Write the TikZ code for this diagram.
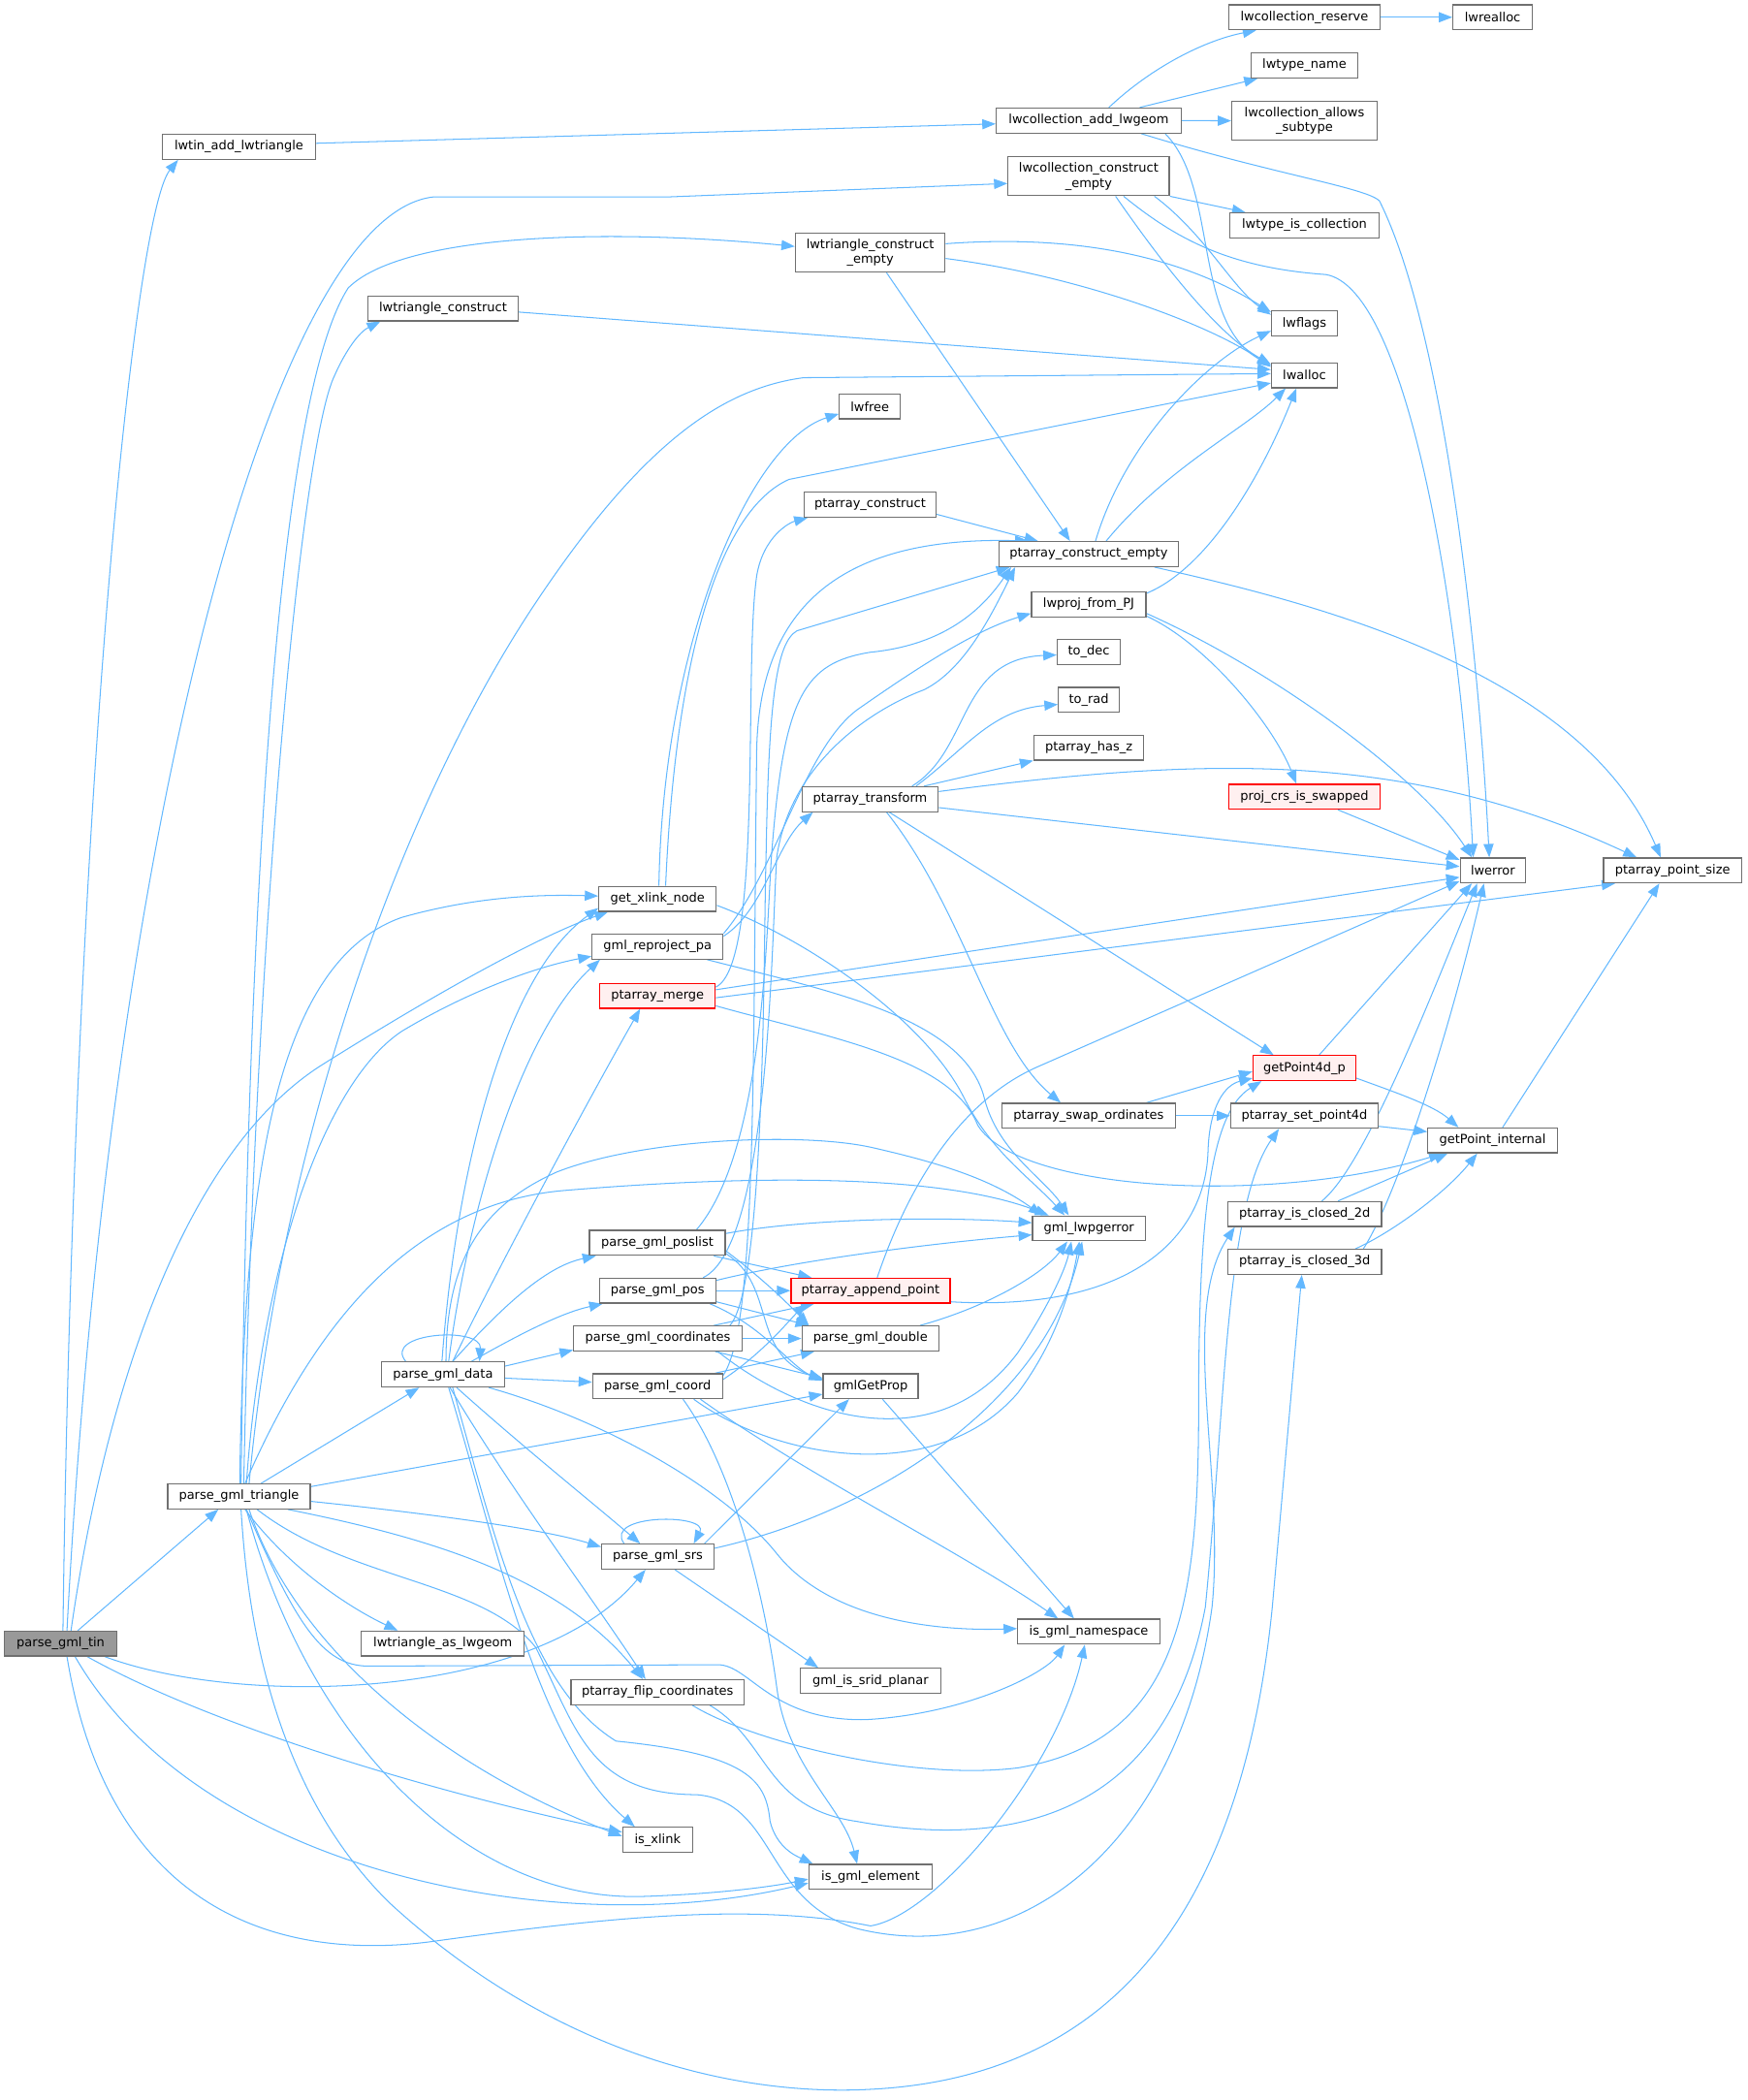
\documentclass[tikz,border=0pt]{standalone}
\usepackage{fontspec}
\setmainfont{DejaVu Sans}
\usetikzlibrary{arrows.meta}
\pgfdeclarelayer{bg}
\pgfsetlayers{bg,main}
\definecolor{edgec}{HTML}{63B8FF}
\definecolor{nodeb}{HTML}{707070}
\definecolor{rootf}{HTML}{999999}
\definecolor{redb}{HTML}{FF0000}
\definecolor{redf}{HTML}{FFF0F0}
\begin{document}
\begin{tikzpicture}[x=1pt,y=-1pt,
  box/.style={draw=nodeb, line width=0.9pt, fill=white, inner sep=0pt, minimum height=18.6pt, font=\fontsize{9.4}{11.4}\selectfont, align=center},
  redbox/.style={box, draw=redb, fill=redf},
  rootbox/.style={box, fill=rootf},
  e/.style={draw=edgec, line width=0.75pt, -{Triangle[length=10pt,width=7.5pt]}}]
\useasboundingbox (0,0) rectangle (1305,1568);
% nodes
\node[rootbox, minimum width=84pt, minimum height=18.4pt] (T) at (45.3,1227.2) {parse\_gml\_tin};
\node[box, minimum width=114pt] (LTA) at (178.4,109.6) {lwtin\_add\_lwtriangle};
\node[box, minimum width=106.5pt] (PT) at (178.4,1117.3) {parse\_gml\_triangle};
\node[box, minimum width=112pt] (LTC) at (330.8,230.3) {lwtriangle\_construct};
\node[box, minimum width=92pt] (PD) at (330.8,1026.3) {parse\_gml\_data};
\node[box, minimum width=121.5pt] (LTG) at (330.6,1227.2) {lwtriangle\_as\_lwgeom};
\node[box, minimum width=87.7pt] (GX) at (491,671.1) {get\_xlink\_node};
\node[box, minimum width=97.7pt] (GR) at (491,706.8) {gml\_reproject\_pa};
\node[redbox, minimum width=86.1pt] (PM) at (491,743.5) {ptarray\_merge};
\node[box, minimum width=101.5pt] (PPL) at (490.8,928) {parse\_gml\_poslist};
\node[box, minimum width=87pt] (PPO) at (491,963.7) {parse\_gml\_pos};
\node[box, minimum width=125.6pt] (PCO) at (491.2,999.4) {parse\_gml\_coordinates};
\node[box, minimum width=97pt] (PCD) at (491,1035) {parse\_gml\_coord};
\node[box, minimum width=84pt] (PS) at (491.2,1162.3) {parse\_gml\_srs};
\node[box, minimum width=129.3pt] (PFC) at (491,1263.5) {ptarray\_flip\_coordinates};
\node[box, minimum width=52pt] (IX) at (491,1373.7) {is\_xlink};
\node[box, minimum width=111.7pt, minimum height=29pt] (LTCE) at (649.8,188.7) {lwtriangle\_construct\\\_empty};
\node[box, minimum width=45.4pt] (LF) at (649.5,303.5) {lwfree};
\node[box, minimum width=98.4pt] (PC) at (649.7,376.9) {ptarray\_construct};
\node[box, minimum width=101.7pt] (PTR) at (649.7,596.7) {ptarray\_transform};
\node[redbox, minimum width=118.7pt] (PAP) at (650,963.7) {ptarray\_append\_point};
\node[box, minimum width=102.1pt] (PGD) at (649.9,999.4) {parse\_gml\_double};
\node[box, minimum width=70.9pt] (GP) at (650.1,1035) {gmlGetProp};
\node[box, minimum width=104.7pt] (GSP) at (650,1255) {gml\_is\_srid\_planar};
\node[box, minimum width=92.1pt] (IGE) at (650,1401.4) {is\_gml\_element};
\node[box, minimum width=138pt] (LCAL) at (812.9,90) {lwcollection\_add\_lwgeom};
\node[box, minimum width=120.4pt, minimum height=29pt] (LCCE) at (812.9,131.6) {lwcollection\_construct\\\_empty};
\node[box, minimum width=133.8pt] (PCE) at (812.9,413.7) {ptarray\_construct\_empty};
\node[box, minimum width=85.4pt] (LP) at (812.9,451.4) {lwproj\_from\_PJ};
\node[box, minimum width=47.1pt] (TD) at (813,486.8) {to\_dec};
\node[box, minimum width=45.4pt] (TR) at (813,522.5) {to\_rad};
\node[box, minimum width=82.1pt] (PHZ) at (813,558.2) {ptarray\_has\_z};
\node[box, minimum width=129.6pt] (PSO) at (812.9,833.1) {ptarray\_swap\_ordinates};
\node[box, minimum width=84.2pt] (GLE) at (813.1,917.2) {gml\_lwpgerror};
\node[box, minimum width=106.3pt] (IGN) at (813,1218.3) {is\_gml\_namespace};
\node[box, minimum width=113.4pt] (LCR) at (974,12.9) {lwcollection\_reserve};
\node[box, minimum width=80pt] (LTN) at (974,48.9) {lwtype\_name};
\node[box, minimum width=108.4pt, minimum height=29pt] (LCAS) at (974,90.2) {lwcollection\_allows\\\_subtype};
\node[box, minimum width=111.7pt] (LTIC) at (974,168.3) {lwtype\_is\_collection};
\node[box, minimum width=49.2pt] (LFL) at (974,241.4) {lwflags};
\node[box, minimum width=49.2pt] (LA) at (974,280.2) {lwalloc};
\node[redbox, minimum width=113.4pt] (PCS) at (974,594.9) {proj\_crs\_is\_swapped};
\node[redbox, minimum width=76.7pt] (G4) at (974,797.5) {getPoint4d\_p};
\node[box, minimum width=110pt] (PSP) at (974,833.1) {ptarray\_set\_point4d};
\node[box, minimum width=114.6pt] (PIC2) at (974.2,906.5) {ptarray\_is\_closed\_2d};
\node[box, minimum width=114.6pt] (PIC3) at (974.2,942.2) {ptarray\_is\_closed\_3d};
\node[box, minimum width=59.2pt] (LR) at (1114.5,12.9) {lwrealloc};
\node[box, minimum width=48.8pt] (LE) at (1114.7,649.9) {lwerror};
\node[box, minimum width=96.7pt] (GPI) at (1114.5,851.5) {getPoint\_internal};
\node[box, minimum width=103pt] (PPS) at (1248.9,649.9) {ptarray\_point\_size};
\begin{pgfonlayer}{bg}
% parse_gml_tin
\draw[e] (T.north -| 47,0) .. controls (55,600) and (100,160) .. (LTA.south -| 133,0);
\draw[e] (T.north -| 50,0) .. controls (80,640) and (200,160) .. (324,147) -- (500,147) -- (LCCE.west |- 0,137);
\draw[e] (T.north -| 58,0) -- (PT.south -| 163,0);
\draw[e] (T.north -| 53,0) .. controls (80,1030) and (140,860) .. (239,796) .. controls (320,745) and (400,700) .. (GX.south -| 454,0);
\draw[e] (T.south -| 78,0) .. controls (180,1275) and (400,1270) .. (PS.south -| 482,0);
\draw[e] (T.south -| 65,0) .. controls (160,1290) and (330,1340) .. (IX.west |- 0,1368);
\draw[e] (T.south -| 56,0) .. controls (150,1400) and (420,1450) .. (IGE.west |- 0,1406);
\draw[e] (T.south -| 50,0) .. controls (80,1420) and (200,1465) .. (320,1450) .. controls (450,1432) and (560,1420) .. (650,1438) .. controls (700,1430) and (790,1320) .. (IGN.south -| 810,0);
% parse_gml_triangle
\draw[e] (PT.north -| 180,0) .. controls (185,700) and (205,300) .. (260,215) .. controls (300,175) and (450,170) .. (LTCE.west |- 0,184);
\draw[e] (PT.north -| 182,0) .. controls (190,700) and (225,330) .. (250,280) .. controls (258,262) and (268,248) .. (LTC.south -| 284,0);
\draw[e] (PT.north -| 186,0) .. controls (210,850) and (300,600) .. (400,450) .. controls (480,330) and (540,290) .. (600,282) -- (LA.west |- 0,279);
\draw[e] (PT.south -| 183,0) .. controls (215,1170) and (260,1200) .. (LTG.north -| 297,0);
\draw[e] (PT.north -| 195,0) -- (PD.south -| 313,0);
\draw[e] (PT.east |- 0,1110) -- (GP.west |- 0,1041);
\draw[e] (PT.east |- 0,1121) .. controls (300,1128) and (400,1140) .. (PS.west |- 0,1155);
\draw[e] (PT.south -| 215,0) .. controls (330,1150) and (420,1180) .. (PFC.north -| 480,0);
\draw[e] (PT.south -| 186,0) .. controls (220,1230) and (330,1320) .. (IX.west |- 0,1371);
\draw[e] (PT.south -| 184,0) .. controls (220,1210) and (240,1244) .. (275,1244) -- (536,1243) .. controls (560,1243) and (575,1285) .. (646,1284) .. controls (720,1280) and (780,1250) .. (IGN.south -| 795,0);
\draw[e] (PT.south -| 184,0) .. controls (230,1300) and (350,1420) .. (480,1416) .. controls (540,1414) and (580,1408) .. (IGE.west |- 0,1403);
\draw[e] (PT.south -| 180,0) .. controls (190,1300) and (250,1380) .. (290,1420) .. controls (420,1540) and (560,1565) .. (650,1560) .. controls (850,1550) and (930,1400) .. (950,1200) -- (PIC3.south -| 972,0);
\draw[e] (PT.south -| 192,0) .. controls (260,1180) and (360,1180) .. (400,1230) .. controls (430,1290) and (440,1340) .. (520,1340) .. controls (580,1345) and (570,1420) .. (640,1440) .. controls (760,1470) and (880,1380) .. (905,1200) .. controls (915,1100) and (880,980) .. (PIC2.south -| 922,0);
\draw[e] (PT.north -| 179,0) .. controls (182,900) and (200,720) .. (300,685) .. controls (360,668) and (410,668) .. (GX.west |- 0,669);
\draw[e] (PT.north -| 184,0) .. controls (195,950) and (240,810) .. (300,770) .. controls (350,740) and (400,722) .. (GR.west |- 0,714);
\draw[e] (PT.north -| 183,0) .. controls (230,1000) and (300,900) .. (420,889) .. controls (550,878) and (700,875) .. (GLE.north -| 783,0);
% parse_gml_data
\draw[e] (PD.north -| 303,0) .. controls (285,995) and (360,990) .. (PD.north -| 358,0);
\draw[e] (PD.north -| 338,0) .. controls (380,970) and (410,945) .. (PPL.south -| 445,0);
\draw[e] (PD.north -| 352,0) .. controls (390,995) and (420,980) .. (PPO.south -| 450,0);
\draw[e] (PD.east |- 0,1020) -- (PCO.west |- 0,1008);
\draw[e] (PD.east |- 0,1029) -- (PCD.west |- 0,1032);
\draw[e] (PD.south -| 341,0) .. controls (390,1080) and (440,1120) .. (PS.north -| 478,0);
\draw[e] (PD.south -| 336,0) .. controls (380,1110) and (440,1190) .. (PFC.north -| 482,0);
\draw[e] (PD.south -| 335,0) .. controls (370,1150) and (400,1300) .. (IX.north -| 474,0);
\draw[e] (PD.south -| 338,0) .. controls (370,1150) and (395,1260) .. (460,1300) .. controls (560,1310) and (572,1330) .. (575,1360) .. controls (580,1380) and (595,1386) .. (IGE.north -| 607,0);
\draw[e] (PD.south -| 365,0) .. controls (450,1060) and (540,1110) .. (580,1160) .. controls (620,1210) and (700,1218) .. (IGN.west |- 0,1216);
\draw[e] (PD.north -| 333,0) .. controls (333,940) and (360,900) .. (416,875) .. controls (480,850) and (600,845) .. (652,857) .. controls (700,868) and (740,880) .. (GLE.north -| 778,0);
\draw[e] (PD.north -| 330,0) .. controls (340,880) and (375,730) .. (GX.west |- 0,678);
\draw[e] (PD.north -| 335,0) .. controls (350,900) and (390,770) .. (GR.south -| 448,0);
\draw[e] (PD.north -| 338,0) .. controls (370,950) and (440,820) .. (PM.south -| 478,0);
% get_xlink_node, gml_reproject_pa, ptarray_merge
\draw[e] (GX.north -| 492,0) .. controls (495,480) and (560,330) .. (LF.west |- 0,309);
\draw[e] (GX.north -| 497,0) .. controls (505,480) and (540,380) .. (589,358) -- (LA.west |- 0,286);
\draw[e] (GX.east |- 0,676) .. controls (600,700) and (690,760) .. (720,820) .. controls (740,860) and (770,880) .. (GLE.north -| 795,0);
\draw[e] (GR.east |- 0,699) .. controls (570,680) and (580,630) .. (PTR.south -| 607,0);
\draw[e] (GR.east |- 0,697) .. controls (580,650) and (600,560) .. (640,530) .. controls (690,495) and (730,470) .. (LP.west |- 0,458);
\draw[e] (GR.south -| 528,0) .. controls (620,740) and (720,760) .. (735,820) .. controls (745,860) and (780,880) .. (GLE.north -| 798,0);
\draw[e] (PM.east |- 0,737) .. controls (570,720) and (555,500) .. (565,430) .. controls (570,400) and (590,390) .. (PC.south -| 603,0);
\draw[e] (PM.east |- 0,739) -- (LE.west |- 0,655);
\draw[e] (PM.east |- 0,745) -- (PPS.south -| 1206,0);
\draw[e] (PM.east |- 0,751) .. controls (620,775) and (710,790) .. (730,840) .. controls (760,890) and (950,900) .. (GPI.south -| 1077,0);
% ptarray_transform
\draw[e] (PTR.north -| 681,0) .. controls (725,560) and (715,492) .. (TD.west |- 0,489);
\draw[e] (PTR.north -| 684,0) .. controls (720,560) and (740,530) .. (TR.west |- 0,526);
\draw[e] (PTR.north -| 690,0) -- (PHZ.south west);
\draw[e] (PTR.east |- 0,591) .. controls (900,565) and (1050,560) .. (PPS.north -| 1222,0);
\draw[e] (PTR.east |- 0,603) -- (LE.west |- 0,647);
\draw[e] (PTR.south -| 664,0) -- (G4.north -| 951,0);
\draw[e] (PTR.south -| 662,0) .. controls (720,680) and (740,780) .. (PSO.north -| 792,0);
% lwproj_from_PJ, proj_crs_is_swapped
\draw[e] (LP.east |- 0,443) .. controls (900,425) and (940,360) .. (LA.south -| 968,0);
\draw[e] (LP.east |- 0,458) .. controls (950,500) and (1060,580) .. (LE.north -| 1099,0);
\draw[e] (LP.east |- 0,460) .. controls (900,480) and (950,540) .. (PCS.north -| 968,0);
\draw[e] (PCS.south -| 999,0) -- (LE.west |- 0,642);
% ptarray_construct_empty etc.
\draw[e] (PCE.north -| 818,0) .. controls (840,330) and (900,270) .. (LFL.west |- 0,247);
\draw[e] (PCE.north -| 826,0) .. controls (870,350) and (930,320) .. (LA.south -| 960,0);
\draw[e] (PCE.south -| 862,0) .. controls (980,450) and (1180,500) .. (PPS.north -| 1240,0);
\draw[e] (PC.east |- 0,384) -- (PCE.north -| 775,0);
\draw[e] (LTCE.east |- 0,182) .. controls (800,175) and (880,190) .. (LFL.west |- 0,233);
\draw[e] (LTCE.east |- 0,193) .. controls (800,205) and (900,240) .. (LA.west |- 0,274);
\draw[e] (LTCE.south -| 662,0) -- (PCE.north -| 799,0);
\draw[e] (LTC.east |- 0,233) -- (LA.west |- 0,276);
% lwcollection_construct_empty
\draw[e] (LCCE.south east) -- (LTIC.north -| 930,0);
\draw[e] (LCCE.south -| 862,0) .. controls (900,175) and (920,215) .. (LFL.west |- 0,235);
\draw[e] (LCCE.south -| 833,0) .. controls (870,200) and (910,250) .. (LA.west |- 0,272);
\draw[e] (LCCE.south -| 839,0) .. controls (880,180) and (920,200) .. (990,205) .. controls (1050,215) and (1090,450) .. (LE.north -| 1100,0);
% lwcollection_add_lwgeom
\draw[e] (LCAL.north -| 828,0) .. controls (860,50) and (900,30) .. (LCR.south -| 938,0);
\draw[e] (LCAL.north -| 851,0) -- (LTN.south -| 939,0);
\draw[e] (LCAL.east) -- (LCAS.west);
\draw[e] (LCAL.south -| 870,0) .. controls (910,140) and (890,240) .. (LA.west |- 0,273);
\draw[e] (LCAL.south -| 852,0) .. controls (950,130) and (1020,140) .. (1030,150) .. controls (1080,250) and (1105,500) .. (LE.north -| 1112,0);
\draw[e] (LTA.east |- 0,107) -- (LCAL.west |- 0,92.5);
\draw[e] (LCR) -- (LR);
% point access
\draw[e] (G4.east |- 0,805) .. controls (1040,815) and (1070,825) .. (GPI.north -| 1089,0);
\draw[e] (G4.north -| 985,0) -- (LE.south -| 1099,0);
\draw[e] (PSO.north -| 856,0) -- (G4.west |- 0,800);
\draw[e] (PSO) -- (PSP);
\draw[e] (PSP.east |- 0,841) -- (GPI.west |- 0,845);
\draw[e] (PIC2.north -| 999,0) -- (GPI.south -| 1081,0);
\draw[e] (PIC2.north -| 987,0) .. controls (1020,870) and (1070,740) .. (LE.south -| 1103,0);
\draw[e] (PIC3.north -| 1012,0) .. controls (1040,920) and (1080,890) .. (GPI.south -| 1103,0);
\draw[e] (PIC3.north -| 1018,0) .. controls (1045,890) and (1085,760) .. (LE.south -| 1108,0);
\draw[e] (GPI.north -| 1122,0) -- (PPS.south -| 1239,0);
\draw[e] (PAP.north -| 655,0) .. controls (680,880) and (720,820) .. (776,796) -- (LE.west |- 0,658);
\draw[e] (PAP.east |- 0,972) .. controls (850,980) and (900,920) .. (902,860) .. controls (903,825) and (915,810) .. (G4.west |- 0,805);
% poslist / pos / coordinates / coord
\draw[e] (PPL.east |- 0,921) .. controls (600,910) and (700,908) .. (GLE.west |- 0,913);
\draw[e] (PPL.south -| 533,0) -- (PAP.north -| 606,0);
\draw[e] (PPL.east |- 0,934) .. controls (570,955) and (590,975) .. (PGD.north -| 604,0);
\draw[e] (PPL.east |- 0,936) .. controls (580,960) and (560,1010) .. (GP.west |- 0,1030);
\draw[e] (PPL.north -| 520,0) .. controls (570,860) and (572,700) .. (576,640) .. controls (585,520) and (600,495) .. (650,487) .. controls (700,482) and (730,460) .. (PCE.south -| 755,0);
\draw[e] (PPO.east |- 0,956) .. controls (600,940) and (700,928) .. (GLE.west |- 0,922);
\draw[e] (PPO) -- (PAP);
\draw[e] (PPO.east |- 0,972) -- (PGD.north -| 604,0);
\draw[e] (PPO.south -| 530,0) .. controls (570,990) and (590,1020) .. (GP.west |- 0,1031);
\draw[e] (PPO.north -| 525,0) .. controls (575,930) and (576,700) .. (580,640) .. controls (590,570) and (650,530) .. (690,515) .. controls (720,500) and (740,460) .. (PCE.south -| 758,0);
\draw[e] (PCO.north -| 533,0) -- (PAP.south -| 608,0);
\draw[e] (PCO) -- (PGD);
\draw[e] (PCO.south -| 534,0) -- (GP.west |- 0,1029);
\draw[e] (PCO.south -| 536,0) .. controls (600,1060) and (700,1090) .. (760,1010) .. controls (780,980) and (795,950) .. (GLE.south -| 800,0);
\draw[e] (PCO.north -| 545,0) .. controls (572,960) and (570,700) .. (572,640) .. controls (574,520) and (580,480) .. (595,471) -- (PCE.south -| 754,0);
\draw[e] (PCD.north -| 534,0) -- (PGD.south -| 608,0);
\draw[e] (PCD.east |- 0,1030) .. controls (570,1010) and (590,985) .. (PAP.south -| 602,0);
\draw[e] (PCD.south -| 518,0) .. controls (580,1090) and (700,1110) .. (760,1040) .. controls (790,1000) and (800,960) .. (GLE.south -| 806,0);
\draw[e] (PCD.south -| 523,0) .. controls (600,1100) and (720,1160) .. (IGN.north -| 790,0);
\draw[e] (PCD.south -| 510,0) .. controls (550,1100) and (572,1200) .. (580,1260) .. controls (588,1320) and (630,1350) .. (IGE.north -| 640,0);
\draw[e] (PCD.east |- 0,1027) .. controls (565,990) and (562,800) .. (565,560) .. controls (567,460) and (620,400) .. (PCE.north -| 768,0);
\draw[e] (PGD.north -| 687,0) .. controls (740,975) and (780,950) .. (GLE.south -| 797,0);
\draw[e] (GP.south -| 659,0) -- (IGN.north -| 802,0);
% parse_gml_srs
\draw[e] (PS.north -| 466,0) .. controls (450,1130) and (530,1130) .. (PS.north -| 518,0);
\draw[e] (PS.north -| 526,0) -- (GP.south -| 634,0);
\draw[e] (PS.east |- 0,1156) .. controls (650,1130) and (780,1050) .. (GLE.south -| 808,0);
\draw[e] (PS.south -| 504,0) -- (GSP.north -| 611,0);
% ptarray_flip_coordinates
\draw[e] (PFC.south -| 517,0) .. controls (560,1300) and (680,1330) .. (760,1320) .. controls (880,1300) and (895,1200) .. (895,1050) .. controls (895,900) and (905,830) .. (G4.south -| 942,0);
\draw[e] (PFC.south -| 530,0) .. controls (575,1300) and (570,1350) .. (640,1360) .. controls (750,1380) and (870,1360) .. (900,1200) .. controls (915,1050) and (915,900) .. (PSP.south -| 955,0);
\end{pgfonlayer}
\end{tikzpicture}
\end{document}
